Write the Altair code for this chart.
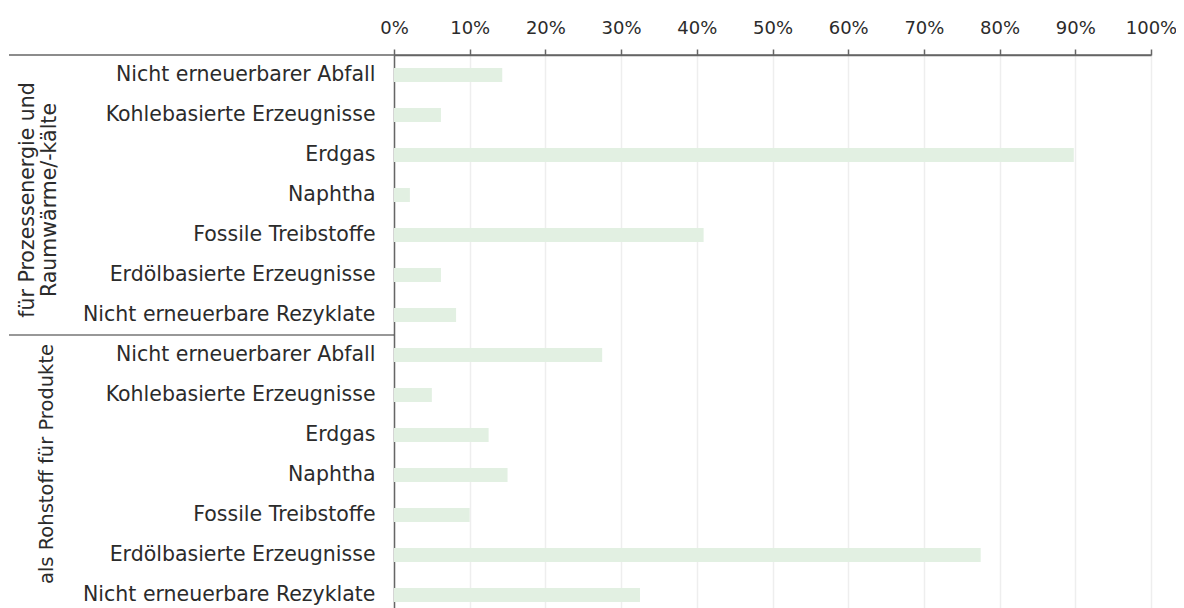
import altair as alt
import pandas as pd

groups = ["für Prozessenergie und\nRaumwärme/-kälte", "als Rohstoff für Produkte"]
categories = [
    "Nicht erneuerbarer Abfall",
    "Kohlebasierte Erzeugnisse",
    "Erdgas",
    "Naphtha",
    "Fossile Treibstoffe",
    "Erdölbasierte Erzeugnisse",
    "Nicht erneuerbare Rezyklate",
]
values_energy = [0.143, 0.062, 0.898, 0.021, 0.409, 0.062, 0.082]
values_feedstock = [0.275, 0.050, 0.125, 0.150, 0.100, 0.775, 0.325]

rows = []
for gi, (g, vals) in enumerate(zip(groups, [values_energy, values_feedstock])):
    for ci, (c, v) in enumerate(zip(categories, vals)):
        rows.append({"group": g, "cat": c, "key": f"{gi}{ci}|{c}", "value": v, "gi": gi, "ci": ci})
df = pd.DataFrame(rows)
order = list(df["key"])

FONT = "DejaVu Sans"
TXT = "#2b2b2b"
W, H = 757, 560
YFS = 20.5
LEFT = 386

yenc = alt.Y("key:N", sort=order, scale=alt.Scale(paddingInner=0, paddingOuter=0),
             axis=alt.Axis(title=None, labelExpr="split(datum.value, '|')[1]", ticks=False,
                           labelPadding=19, labelFont=FONT, labelFontSize=YFS, labelColor=TXT,
                           domainColor="#666666", domainWidth=1.5, grid=False, labelLimit=400))

bars = alt.Chart(df).mark_bar(size=14, color="#e2f0e2").encode(
    x=alt.X("value:Q", scale=alt.Scale(domain=[0, 1]),
            axis=alt.Axis(orient="top", format="%", values=[i / 10 for i in range(11)],
                          title=None, labelFont=FONT, labelFontSize=18, labelColor=TXT,
                          labelFlush=False,
                          tickSize=6, tickColor="#666666", tickWidth=1.5, labelPadding=12,
                          domainColor="#666666", domainWidth=1.5,
                          grid=True, gridColor="#eeeeee", gridWidth=1.5)),
    y=yenc,
)

top_line = alt.Chart(pd.DataFrame({"a": [0]})).mark_rule(color="#666666", strokeWidth=1.5).encode(
    x=alt.value(1 - LEFT), x2=alt.value(W), y=alt.value(0)
)

sep_df = df[(df["gi"] == 1) & (df["ci"] == 0)]
sep = alt.Chart(sep_df).mark_rule(color="#333333", strokeWidth=1.2).encode(
    y=alt.Y("key:N", sort=order, bandPosition=0),
    x=alt.value(1 - LEFT), x2=alt.value(0)
)

lab1 = df[(df["ci"] == 3) & (df["gi"] == 0)]
lab2 = df[(df["ci"] == 3) & (df["gi"] == 1)]

def glabel(d, xpx, yoff, fs):
    return alt.Chart(d).mark_text(
        angle=270, lineBreak="\n", font=FONT, fontSize=fs, color=TXT,
        align="center", baseline="middle", lineHeight=22
    ).encode(
        y=alt.Y("key:N", sort=order),
        yOffset=alt.value(yoff),
        x=alt.value(xpx),
        text="group:N",
    )

chart = alt.layer(bars, top_line, sep,
                  glabel(lab1, 20 - LEFT, 25, YFS),
                  glabel(lab2, 39 - LEFT, 9, 19.5)).properties(
    width=W, height=H,
    autosize=alt.AutoSizeParams(type="none"),
    padding={"left": LEFT, "top": 47, "right": 1168 - LEFT - W, "bottom": 10},
).configure_view(stroke=None)

chart.save("out.html", embed_options={"renderer": "svg", "actions": False})
